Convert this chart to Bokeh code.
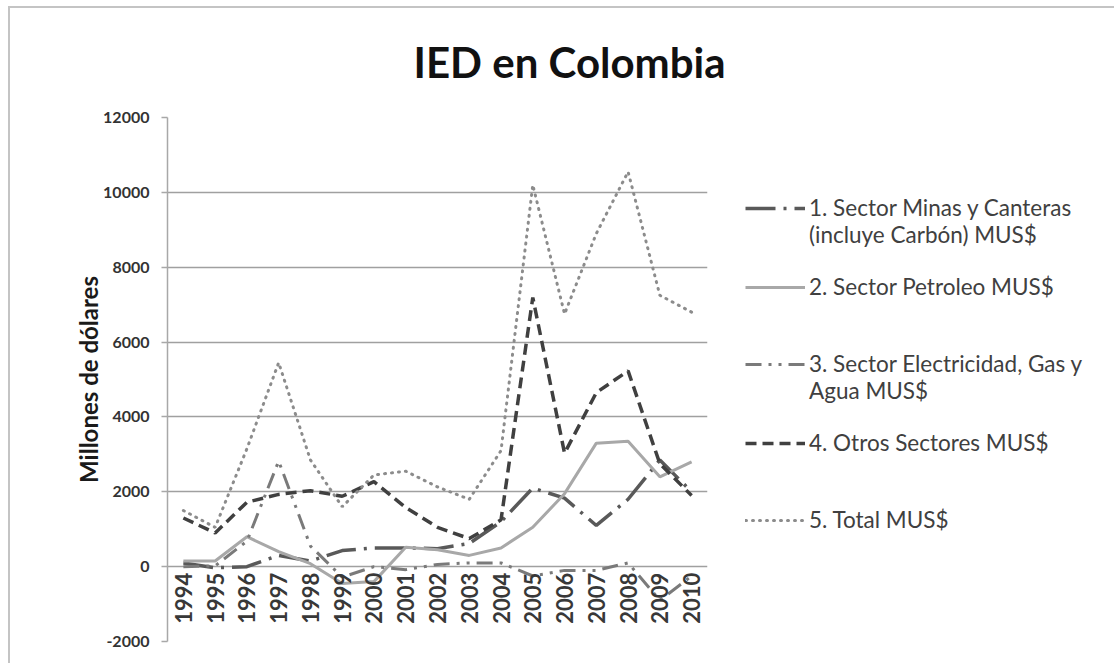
import numpy as np
from bokeh.plotting import figure
from bokeh.models import Legend, LegendItem, FixedTicker
from bokeh.core.properties import value
from bokeh.embed import file_html
from bokeh.resources import INLINE

# ---- data (millones de dólares) ----
years = list(range(1994, 2011))
year_labels = [str(y) for y in years]
minas = [100, -30, 0, 300, 150, 430, 500, 500, 480, 620, 1200, 2100, 1830, 1100, 1800, 2850, 2000]
petroleo = [150, 150, 800, 400, 80, -450, -400, 520, 450, 300, 500, 1050, 1950, 3300, 3350, 2400, 2800]
electricidad = [0, 20, 680, 2820, 550, -280, 0, -80, 60, 100, 100, -250, -100, -100, 100, -900, -250]
otros = [1300, 900, 1720, 1930, 2030, 1880, 2270, 1580, 1050, 750, 1250, 7190, 3030, 4650, 5230, 2750, 1900]
total = [1500, 1050, 3150, 5450, 2850, 1600, 2450, 2550, 2130, 1800, 3100, 10200, 6750, 8900, 10550, 7250, 6800]
y_ticks = [-2000, 0, 2000, 4000, 6000, 8000, 10000, 12000]
y_tick_labels = ["-2000", "0", "2000", "4000", "6000", "8000", "10000", "12000"]
series_names = [
    "1. Sector Minas y Canteras",
    "(incluye Carbón) MUS$",
    "2. Sector Petroleo MUS$",
    "3. Sector Electricidad, Gas y",
    "Agua MUS$",
    "4. Otros Sectores MUS$",
    "5. Total MUS$",
]

FONT = "Lato"
TXT = "#404040"

p = figure(frame_width=540, frame_height=524,
           x_range=(1993.5, 2010.5), y_range=(-2000, 12000),
           output_backend="svg", toolbar_location=None,
           min_border_left=157, min_border_right=407,
           min_border_top=109, min_border_bottom=22,
           title="IED en Colombia")
p.margin = (6, 0, 0, 8)
p.styles = {"border-left": "2px solid #c4c4c4", "border-top": "2px solid #c4c4c4"}
p.outline_line_color = None
p.background_fill_color = "white"
p.border_fill_color = "white"

# title
p.title.align = "left"
p.title.offset = 246
p.title.vertical_align = "top"
p.title.standoff = 57
p.title.text_font = FONT
p.title.text_font_size = "42px"
p.title.text_font_style = "bold"
p.title.text_color = "#111111"

# axes
p.xaxis.visible = False
p.xgrid.visible = False
ya = p.yaxis[0]
ya.ticker = FixedTicker(ticks=y_ticks)
ya.major_label_overrides = {t: l for t, l in zip(y_ticks, y_tick_labels)}
ya.axis_line_color = "#a8a8a8"
ya.axis_line_width = 1.5
ya.major_tick_line_color = "#a8a8a8"
ya.major_tick_line_width = 1.5
ya.major_tick_out = 6
ya.major_tick_in = 0
ya.minor_tick_line_color = None
ya.major_label_standoff = 12
ya.major_label_text_font = FONT
ya.major_label_text_font_size = "16px"
ya.major_label_text_font_style = "bold"
ya.major_label_text_color = "#333333"
ya.axis_label = "Millones de dólares"
ya.axis_label_text_font = FONT
ya.axis_label_text_font_size = "24px"
ya.axis_label_text_font_style = "bold"
ya.axis_label_text_color = "#1a1a1a"
ya.axis_label_standoff = -3

p.ygrid.ticker = FixedTicker(ticks=y_ticks)
p.ygrid.grid_line_color = "#a0a0a0"
p.ygrid.grid_line_width = 1.5

# series
r1 = p.line(years, minas, line_color="#595959", line_width=3.5, line_dash="30 8 3 8")
r2 = p.line(years, petroleo, line_color="#a8a8a8", line_width=3)
r3 = p.line(years, electricidad, line_color="#7a7a7a", line_width=3, line_dash="16 7 3 7 3 7")
r4 = p.line(years, otros, line_color="#404040", line_width=3.5, line_dash="11 6")
r5 = p.line(years, total, line_color="#8c8c8c", line_width=3, line_dash="1 6", line_cap="round")
blank = p.line(x=[], y=[], line_alpha=0)

# category labels sitting under the zero line
p.text(x=years, y=[0] * len(years), text=year_labels, angle=np.pi / 2,
       text_align="right", text_baseline="middle", y_offset=6,
       text_font=value(FONT), text_font_size="22px", text_font_style="bold",
       text_color="#383838")

# legend
items = [
    LegendItem(label=series_names[0], renderers=[r1]),
    LegendItem(label=series_names[1], renderers=[blank]),
    LegendItem(label=" ", renderers=[blank]),
    LegendItem(label=series_names[2], renderers=[r2]),
    LegendItem(label=" ", renderers=[blank]),
    LegendItem(label=" ", renderers=[blank]),
    LegendItem(label=series_names[3], renderers=[r3]),
    LegendItem(label=series_names[4], renderers=[blank]),
    LegendItem(label=" ", renderers=[blank]),
    LegendItem(label=series_names[5], renderers=[r4]),
    LegendItem(label=" ", renderers=[blank]),
    LegendItem(label=" ", renderers=[blank]),
    LegendItem(label=series_names[6], renderers=[r5]),
]
legend = Legend(items=items, location=(38, 108), padding=0, spacing=0, margin=24,
                label_height=25, glyph_height=20, glyph_width=60, label_standoff=4,
                label_text_font=FONT, label_text_font_size="22.5px", label_text_color=TXT,
                border_line_color=None, background_fill_alpha=0)
p.add_layout(legend, "right")

open("out.html", "w").write(file_html(p, INLINE))
